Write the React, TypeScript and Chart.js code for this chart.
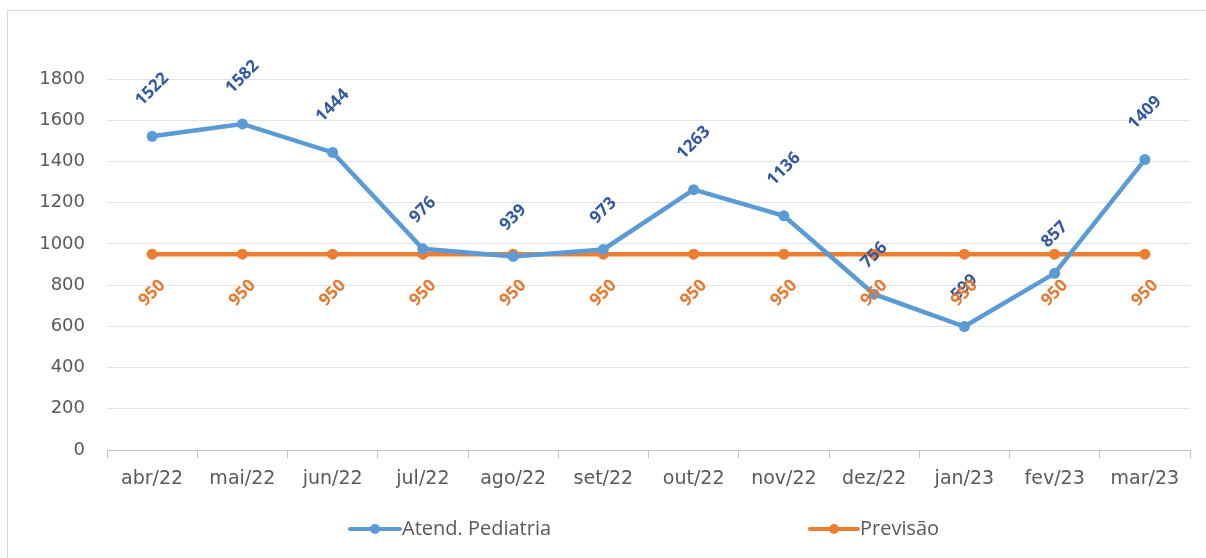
import React, { useEffect, useRef } from "react";
import { Chart, registerables } from "chart.js";

Chart.register(...registerables);

const categories = ["abr/22", "mai/22", "jun/22", "jul/22", "ago/22", "set/22", "out/22", "nov/22", "dez/22", "jan/23", "fev/23", "mar/23"];
const atendPediatria = [1522, 1582, 1444, 976, 939, 973, 1263, 1136, 756, 599, 857, 1409];
const previsao = [950, 950, 950, 950, 950, 950, 950, 950, 950, 950, 950, 950];
const yTicks = { min: 0, max: 1800, step: 200 };
const seriesNames = ["Atend. Pediatria", "Previsão"];

const BLUE = "#5B9BD5";
const ORANGE = "#ED7D31";
const BLUE_LABEL = "#3259A0";
const ORANGE_LABEL = "#E8772E";
const TEXT = "#595959";

const labelPlugin = {
  id: "rotLabels",
  afterDatasetsDraw(chart: any) {
    const ctx = chart.ctx;
    ctx.save();
    ctx.font = "bold 17px 'Open Sans'";
    ctx.textAlign = "center";
    ctx.textBaseline = "middle";
    chart.data.datasets.forEach((ds: any, di: number) => {
      const meta = chart.getDatasetMeta(di);
      meta.data.forEach((pt: any, i: number) => {
        const txt = String(ds.data[i]);
        const w = ctx.measureText(txt).width;
        const off = 15 + w * 0.82;
        const cx = pt.x;
        const cy = di === 0 ? pt.y - off : pt.y + off;
        ctx.save();
        ctx.translate(cx, cy);
        ctx.rotate(-Math.PI / 4);
        ctx.fillStyle = di === 0 ? BLUE_LABEL : ORANGE_LABEL;
        ctx.fillText(txt, 0, 0);
        ctx.restore();
      });
    });
    ctx.restore();
  },
};

const legendPlugin = {
  id: "customLegend",
  afterDraw(chart: any) {
    const ctx = chart.ctx;
    const y = 529;
    const items = [
      { x0: 350, x1: 400, color: BLUE, text: seriesNames[0] },
      { x0: 810, x1: 858, color: ORANGE, text: seriesNames[1] },
    ];
    ctx.save();
    items.forEach((it) => {
      ctx.strokeStyle = it.color;
      ctx.lineWidth = 4;
      ctx.lineCap = "round";
      ctx.beginPath();
      ctx.moveTo(it.x0, y);
      ctx.lineTo(it.x1, y);
      ctx.stroke();
      ctx.fillStyle = it.color;
      ctx.beginPath();
      ctx.arc((it.x0 + it.x1) / 2, y, 5, 0, Math.PI * 2);
      ctx.fill();
      ctx.fillStyle = TEXT;
      ctx.font = "20px 'Open Sans'";
      ctx.textAlign = "left";
      ctx.textBaseline = "middle";
      ctx.fillText(it.text, it.x1 + 2, y);
    });
    ctx.restore();
  },
};

export default function App() {
  const ref = useRef<HTMLCanvasElement>(null);
  useEffect(() => {
    if (!ref.current) return;
    const chart = new Chart(ref.current, {
      type: "line",
      data: {
        labels: categories,
        datasets: [
          {
            label: seriesNames[0],
            data: atendPediatria,
            borderColor: BLUE,
            backgroundColor: BLUE,
            borderWidth: 4.5,
            pointRadius: 5.5,
            pointBackgroundColor: BLUE,
            pointBorderWidth: 0,
            tension: 0,
          },
          {
            label: seriesNames[1],
            data: previsao,
            borderColor: ORANGE,
            backgroundColor: ORANGE,
            borderWidth: 4.5,
            pointRadius: 5.5,
            pointBackgroundColor: ORANGE,
            pointBorderWidth: 0,
            tension: 0,
          },
        ],
      },
      options: {
        animation: false,
        responsive: false,
        maintainAspectRatio: false,
        layout: { padding: { top: 79, right: 16, left: 0, bottom: 0 } },
        plugins: {
          legend: { display: false },
          tooltip: { enabled: false },
        },
        scales: {
          x: {
            offset: true,
            grid: {
              offset: true,
              drawOnChartArea: false,
              drawTicks: true,
              tickLength: 8,
              color: "#BFBFBF",
              lineWidth: 1,
            },
            border: { display: true, color: "#BFBFBF", width: 1 },
            ticks: {
              color: TEXT,
              font: { family: "'DejaVu Sans'", size: 19 },
              padding: 10,
              maxRotation: 0,
            },
            afterFit(scale: any) {
              scale.height = 108;
            },
          },
          y: {
            min: yTicks.min,
            max: yTicks.max,
            ticks: {
              stepSize: yTicks.step,
              color: TEXT,
              font: { family: "'DejaVu Sans'", size: 18 },
              padding: 22,
              callback: (v: any) => String(v),
            },
            grid: { color: "#E3E3E3", lineWidth: 1, drawTicks: false },
            border: { display: false },
            afterFit(scale: any) {
              scale.width = 107;
            },
          },
        },
      },
      plugins: [labelPlugin, legendPlugin],
    });
    return () => chart.destroy();
  }, []);
  return (
    <div style={{ position: "absolute", left: 0, top: 0, width: 1206, height: 558, overflow: "hidden", background: "#fff" }}>
      <div style={{ position: "absolute", left: 7, top: 10, width: 1260, height: 600, border: "1.5px solid #D9D9D9" }} />
      <canvas ref={ref} width={1206} height={558} style={{ position: "absolute", left: 0, top: 0, width: 1206, height: 558 }} />
    </div>
  );
}
